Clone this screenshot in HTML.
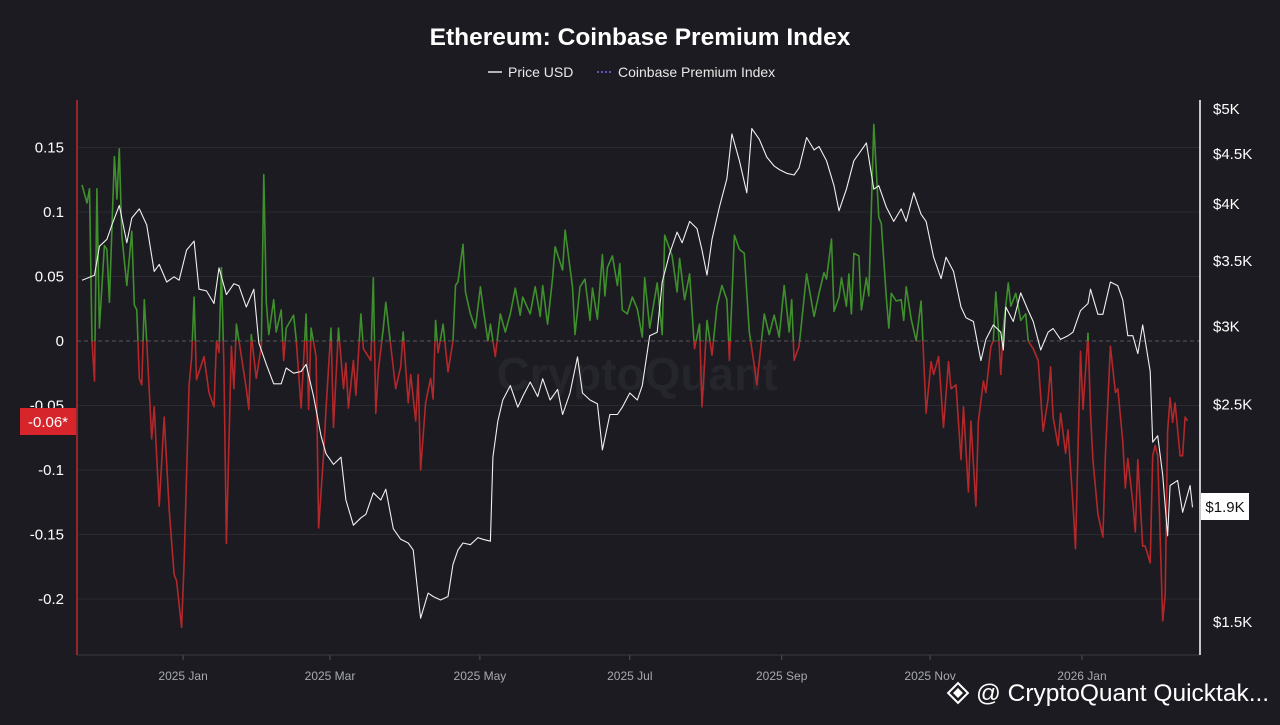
<!DOCTYPE html>
<html>
<head>
<meta charset="utf-8">
<style>
  html,body{margin:0;padding:0;background:#1b1b21;}
  body{width:1280px;height:720px;overflow:hidden;font-family:"Liberation Sans",sans-serif;}
  svg text{font-family:"Liberation Sans",sans-serif;}
</style>
</head>
<body>
<svg id="chart" width="1280" height="720" viewBox="0 0 1280 720" xmlns="http://www.w3.org/2000/svg">
  <rect x="0" y="0" width="1280" height="720" fill="#1b1b21"/>
  <text x="640" y="45" text-anchor="middle" fill="#ffffff" font-size="24.5" font-weight="bold">Ethereum: Coinbase Premium Index</text>
  <g>
    <g>
      <line x1="488" y1="72" x2="502" y2="72" stroke="#e8e8e8" stroke-width="1.5"/>
      <text x="508" y="77" fill="#e8e8e8" font-size="14">Price USD</text>
    </g>
    <g>
      <line x1="597" y1="72" x2="611" y2="72" stroke="#7b68ee" stroke-width="1.5" stroke-dasharray="2,2"/>
      <text x="618" y="77" fill="#e8e8e8" font-size="14">Coinbase Premium Index</text>
    </g>
  </g>
  <text x="637" y="390" text-anchor="middle" fill="#25252c" font-size="46" font-weight="bold">CryptoQuant</text>
  <g id="grid"></g>
  <g id="marks"></g>
  <g id="axes"></g>
  <g>
    <g transform="translate(958,693) rotate(45)" fill="none" stroke="#ffffff" stroke-width="2">
      <rect x="-7" y="-7" width="14" height="14"/>
      <rect x="-2.5" y="-2.5" width="5" height="5" fill="#fff"/>
    </g>
    <text x="976" y="701" fill="#ffffff" font-size="24.5">@ CryptoQuant Quicktak...</text>
  </g>
</svg>
<script>
// ---- data ----
const tickDays = [40.6, 99.6, 159.8, 220, 281, 340.6, 401.6];
const tickLabels = ["2025 Jan","2025 Mar","2025 May","2025 Jul","2025 Sep","2025 Nov","2026 Jan"];
const leftTicks = [0.15, 0.1, 0.05, 0, -0.05, -0.1, -0.15, -0.2];
const leftTickLabels = ["0.15","0.1","0.05","0","-0.05","-0.1","-0.15","-0.2"];
const rightTicks = [5000, 4500, 4000, 3500, 3000, 2500, 1500];
const rightTickLabels = ["$5K","$4.5K","$4K","$3.5K","$3K","$2.5K","$1.5K"];

const priceDays = [0,5,7,10,12,15,18,20,23,26,29,31,34,37,39,42,45,47,50,53,55,58,61,63,66,69,71,74,77,80,82,85,88,90,93,96,98,101,104,106,109,112,114,117,120,122,125,128,131,133,136,139,141,144,147,149,151,153,156,159,161,164,165,167,169,172,175,177,180,183,185,188,191,193,196,199,201,204,207,209,212,215,217,220,223,225,228,231,233,236,239,241,244,247,249,251,253,256,259,261,264,267,269,272,275,278,280,283,286,288,291,294,296,299,302,304,307,310,312,315,318,320,323,326,329,331,334,337,339,342,345,347,350,353,355,358,361,363,366,369,370,371,374,377,380,382,385,388,390,393,396,398,401,404,405,408,410,413,416,418,420,422,424,426,429,430,432,434,436,437,440,442,445,446];
const priceValues = [3345,3385,3622,3682,3809,3987,3652,3871,3955,3809,3415,3472,3331,3372,3345,3591,3667,3275,3262,3167,3443,3234,3318,3302,3141,3275,2888,2746,2623,2623,2722,2689,2700,2746,2546,2322,2226,2171,2208,1997,1882,1915,1931,2031,1997,2048,1867,1821,1805,1776,1513,1605,1592,1579,1592,1717,1776,1805,1798,1828,1821,1813,2208,2402,2525,2612,2483,2546,2634,2546,2655,2525,2589,2441,2567,2794,2567,2525,2503,2246,2441,2441,2483,2567,2525,2612,2937,2961,3331,3562,3745,3652,3840,3776,3591,3385,3682,3972,4246,4716,4429,4107,4775,4657,4466,4373,4338,4300,4282,4355,4676,4542,4579,4429,4176,3937,4142,4429,4502,4617,4142,4176,3972,3840,3955,3840,4107,3905,3840,3531,3358,3531,3415,3141,3063,3036,2770,2911,3012,2961,2840,3141,3036,3247,3115,3036,2840,2961,2987,2911,2937,2961,3115,3167,3275,3088,3088,3331,3302,3194,2937,2937,2816,3012,2700,2287,2322,2118,1836,2066,2091,1940,2066,1963];

const premDays = [0,2,3,4,5,6,7,9,10,11,13,14,15,16,18,20,21,22,23,24,25,26,28,29,31,33,35,37,38,40,41,43,44,45,46,49,51,53,54,55,56,57,58,60,61,62,64,66,67,68,70,72,73,74,75,77,78,80,81,82,85,86,88,90,91,92,94,95,97,98,100,101,103,105,106,107,109,110,112,113,116,117,118,119,121,122,124,126,128,129,131,132,134,135,136,138,140,141,142,143,145,147,149,150,151,153,154,156,158,160,161,163,164,166,168,170,172,174,176,177,180,182,184,185,187,189,190,193,194,197,198,200,202,204,205,207,209,210,211,213,215,216,217,219,221,223,225,226,228,231,233,234,237,239,240,242,244,246,248,249,251,253,255,257,259,260,262,264,266,268,270,271,274,276,278,280,282,284,285,286,288,291,294,296,298,299,301,302,304,305,307,308,309,310,312,313,315,316,318,320,321,323,324,325,327,329,330,331,333,335,337,339,341,342,344,346,348,349,351,353,354,356,357,359,360,362,363,365,366,367,368,369,370,372,373,375,377,379,380,382,384,386,388,389,390,392,393,395,396,398,399,401,402,404,405,406,408,410,411,413,415,416,418,419,420,422,423,424,426,427,429,430,431,432,434,435,436,437,438,439,441,442,443,444];
const premValues = [0.121,0.107,0.118,0,-0.031,0.118,0.010,0.074,0.071,0.030,0.143,0.110,0.149,0.082,0.043,0.085,0.028,0.024,-0.029,-0.034,0.032,0,-0.076,-0.051,-0.128,-0.059,-0.131,-0.181,-0.186,-0.222,-0.172,-0.034,-0.013,0.034,-0.030,-0.012,-0.040,-0.051,0,-0.009,0.057,-0.020,-0.157,-0.004,-0.037,0.013,-0.012,-0.037,-0.053,0.005,-0.029,-0.004,0.129,0.030,0.005,0.032,0.007,0.024,-0.015,0.010,0.020,0.002,-0.052,0.021,-0.053,0.010,-0.012,-0.145,-0.089,-0.053,0.010,-0.067,0.010,-0.037,-0.017,-0.052,-0.015,-0.042,0.021,-0.006,-0.015,0.049,-0.056,-0.023,0.010,0.030,-0.004,-0.037,-0.020,0.007,-0.048,-0.026,-0.062,-0.026,-0.100,-0.048,-0.029,-0.045,0.016,-0.009,0.013,-0.024,0,0.043,0.046,0.075,0.038,0.021,0.010,0.042,0.027,0,0.013,-0.012,0.021,0.007,0.021,0.041,0.020,0.034,0.021,0.042,0.019,0.043,0.013,0.049,0.073,0.055,0.086,0.042,0.005,0.042,0.048,0.016,0.041,0.017,0.067,0.035,0.057,0.066,0.043,0.060,0.024,0.021,0.034,0.025,0.003,0.049,0.010,0.045,0.005,0.082,0.066,0.038,0.064,0.032,0.052,-0.006,0.013,-0.051,0.016,-0.011,0.027,0.043,0.032,-0.015,0.082,0.071,0.068,0.007,-0.019,-0.034,0.021,0.005,0.020,0.003,0.043,0.007,0.032,-0.015,-0.004,0.052,0.019,0.037,0.053,0.048,0.079,0.023,0.034,0.049,0.027,0.052,0.021,0.068,0.066,0.024,0.049,0.035,0.168,0.096,0.091,0.034,0.010,0.037,0.031,0.032,0.016,0.042,0.017,0,0.031,-0.056,-0.016,-0.026,-0.012,-0.067,-0.016,-0.037,-0.034,-0.092,-0.051,-0.117,-0.062,-0.128,-0.062,-0.031,-0.040,-0.004,0,0.038,0.010,-0.026,0.010,0.045,0.027,0.037,0.016,0.021,0,-0.006,-0.015,-0.070,-0.045,-0.020,-0.059,-0.081,-0.056,-0.087,-0.069,-0.127,-0.161,-0.008,-0.053,0.006,-0.056,-0.092,-0.134,-0.152,-0.089,-0.004,-0.040,-0.037,-0.078,-0.114,-0.091,-0.125,-0.148,-0.092,-0.159,-0.159,-0.172,-0.089,-0.081,-0.089,-0.217,-0.197,-0.070,-0.044,-0.063,-0.048,-0.089,-0.089,-0.059,-0.062];

// ---- scales ----
const X0 = 82, PX_PER_DAY = 2.49;
const PLOT_L = 77, PLOT_R = 1200, PLOT_T = 100, PLOT_B = 655;
function xScale(d){ return X0 + d * PX_PER_DAY; }
function yLeft(v){ return 341 - v * 1290; }
function yRight(p){ return 109 + 426 * Math.log(5000 / p); }

const NS = "http://www.w3.org/2000/svg";
function mk(tag, attrs, parent){
  const el = document.createElementNS(NS, tag);
  for (const k in attrs) el.setAttribute(k, attrs[k]);
  parent.appendChild(el);
  return el;
}
const svg = document.getElementById('chart');
const grid = document.getElementById('grid');
const marks = document.getElementById('marks');
const axes = document.getElementById('axes');

leftTicks.forEach((v, i) => {
  const y = yLeft(v);
  const gl = mk('line', {x1: PLOT_L, x2: PLOT_R, y1: y, y2: y, stroke: v === 0 ? '#55555c' : '#2a2a31', 'stroke-width': 1, 'stroke-dasharray': v === 0 ? '4,3' : 'none'}, grid);
  
  
  const t = mk('text', {x: 64, y: y + 5, 'text-anchor': 'end', fill: '#ffffff', 'font-size': 15}, axes);
  t.textContent = leftTickLabels[i];
  
  
});
rightTicks.forEach((p, i) => {
  const y = yRight(p);
  const t = mk('text', {x: 1213, y: y + 5, fill: '#ffffff', 'font-size': 15}, axes);
  t.textContent = rightTickLabels[i];
  
  
});
tickDays.forEach((d, i) => {
  const x = xScale(d);
  const tk = mk('line', {x1: x, x2: x, y1: PLOT_B, y2: PLOT_B + 5, stroke: '#555'}, axes);
  
  
  const t = mk('text', {x: x, y: 680, 'text-anchor': 'middle', fill: '#a8a8b0', 'font-size': 12}, axes);
  t.textContent = tickLabels[i];
  
  
});
const xa = mk('line', {x1: PLOT_L, x2: PLOT_R, y1: PLOT_B, y2: PLOT_B, stroke: '#3a3a42'}, axes);


const la = mk('line', {x1: PLOT_L, x2: PLOT_L, y1: PLOT_T, y2: PLOT_B, stroke: '#c0282b', 'stroke-width': 1.5}, axes);


const ra = mk('line', {x1: PLOT_R, x2: PLOT_R, y1: PLOT_T, y2: PLOT_B, stroke: '#ffffff', 'stroke-width': 1.5}, axes);



const defs = mk('defs', {}, svg);
const cpA = mk('clipPath', {id: 'above'}, defs);
mk('rect', {x: PLOT_L, y: 0, width: PLOT_R - PLOT_L, height: yLeft(0)}, cpA);
const cpB = mk('clipPath', {id: 'below'}, defs);
mk('rect', {x: PLOT_L, y: yLeft(0), width: PLOT_R - PLOT_L, height: 720}, cpB);

const premPts = premDays.map((d, i) => xScale(d).toFixed(1) + ',' + yLeft(premValues[i]).toFixed(1)).join(' ');
const pg = mk('polyline', {points: premPts, fill: 'none', stroke: '#3f8f2c', 'stroke-width': 1.6, 'clip-path': 'url(#above)', 'stroke-linejoin': 'round'}, marks);


const pr = mk('polyline', {points: premPts, fill: 'none', stroke: '#b3282b', 'stroke-width': 1.6, 'clip-path': 'url(#below)', 'stroke-linejoin': 'round'}, marks);



const pricePts = priceDays.map((d, i) => xScale(d).toFixed(1) + ',' + yRight(priceValues[i]).toFixed(1)).join(' ');
const pl = mk('polyline', {points: pricePts, fill: 'none', stroke: '#f0f0f0', 'stroke-width': 1.1, 'stroke-linejoin': 'round'}, marks);



const lb = mk('g', {}, axes);


mk('rect', {x: 20, y: 408, width: 56, height: 27, fill: '#d7262b'}, lb);
const lbt = mk('text', {x: 48, y: 427, 'text-anchor': 'middle', fill: '#fff', 'font-size': 15}, lb);
lbt.textContent = '-0.06*';
const rb = mk('g', {}, axes);


mk('rect', {x: 1201, y: 493, width: 48, height: 27, fill: '#ffffff'}, rb);
const rbt = mk('text', {x: 1225, y: 512, 'text-anchor': 'middle', fill: '#111', 'font-size': 15}, rb);
rbt.textContent = '$1.9K';
</script>
</body>
</html>
